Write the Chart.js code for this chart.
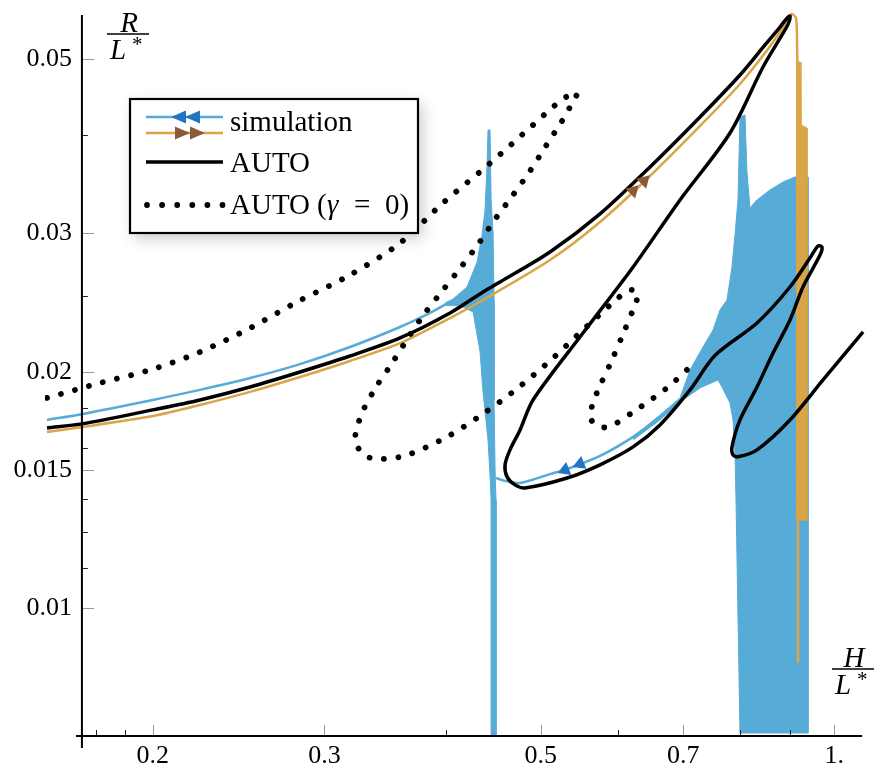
<!DOCTYPE html>
<html>
<head>
<meta charset="utf-8">
<script src="https://cdn.jsdelivr.net/npm/chart.js@4.4.0/dist/chart.umd.min.js"></script>
<style>
  html, body { margin: 0; padding: 0; background: #fff; }
  #wrap { width: 886px; height: 774px; }
</style>
</head>
<body>
<div id="wrap"><canvas id="chart" width="886" height="774"></canvas></div>
<script>
// values are H/L* (x) and R/L* (y)

// AUTO branch (solid black)
const autoH = [0.1558, 0.1692, 0.2000, 0.2236, 0.2517, 0.2832, 0.3187, 0.3587, 0.4036, 0.4363,
  0.4542, 0.5111, 0.5752, 0.6473, 0.7284, 0.8005, 0.8492, 0.8798, 0.8945, 0.9008,
  0.8987, 0.8903, 0.8452, 0.7818, 0.6948, 0.6219, 0.5525, 0.4910, 0.4762,
  0.4650, 0.4596, 0.4618, 0.4706, 0.4818, 0.5321, 0.5752, 0.6219, 0.6627, 0.7114,
  0.7553, 0.8333, 0.9008, 0.9444, 0.9624, 0.9716, 0.9670, 0.9289, 0.9008, 0.8654,
  0.8333, 0.8005, 0.7855, 0.7874, 0.7967, 0.8333, 0.9008, 0.9739, 1.0706];
const autoR = [0.01696, 0.01716, 0.01788, 0.01841, 0.01912, 0.01998, 0.02094, 0.02208, 0.02376, 0.02527,
  0.02602, 0.02841, 0.03177, 0.03646, 0.04222, 0.04775, 0.05215, 0.05496, 0.05643, 0.05677,
  0.05578, 0.05449, 0.04889, 0.04028, 0.03310, 0.02719, 0.02240, 0.01841, 0.01686,
  0.01590, 0.01522, 0.01469, 0.01435, 0.01422, 0.01464, 0.01522, 0.01604, 0.01711, 0.01896,
  0.02100, 0.02307, 0.02564, 0.02791, 0.02892, 0.02883, 0.02816, 0.02564, 0.02327, 0.02112,
  0.01912, 0.01736, 0.01604, 0.01567, 0.01558, 0.01590, 0.01736, 0.01952, 0.02247];

// AUTO with gamma = 0 (dotted)
const auto0H = [0.1558, 0.1766, 0.1987, 0.2236, 0.2517, 0.2812, 0.3187, 0.3587, 0.3970, 0.4415,
  0.4910, 0.5160, 0.5308, 0.5448, 0.5358, 0.5258, 0.5063, 0.4875, 0.4684, 0.4499,
  0.4322, 0.4143, 0.3970, 0.3805, 0.3655, 0.3520, 0.3389, 0.3279, 0.3225, 0.3287,
  0.3381, 0.3621, 0.3989, 0.4363, 0.4739, 0.5136, 0.5539, 0.5988, 0.6160, 0.6292,
  0.6233, 0.6073, 0.5903, 0.5738, 0.5658, 0.5618, 0.5711, 0.5876, 0.6219, 0.6738, 0.7097];
const auto0R = [0.01852, 0.01935, 0.02010, 0.02119, 0.02273, 0.02454, 0.02656, 0.02917, 0.03281, 0.03667,
  0.04124, 0.04359, 0.04477, 0.04530, 0.04347, 0.04173, 0.03879, 0.03603, 0.03359, 0.03140,
  0.02917, 0.02719, 0.02542, 0.02376, 0.02208, 0.02051, 0.01912, 0.01772, 0.01637, 0.01571,
  0.01549, 0.01562, 0.01647, 0.01767, 0.01907, 0.02076, 0.02267, 0.02475, 0.02542, 0.02519,
  0.02418, 0.02234, 0.02057, 0.01907, 0.01825, 0.01751, 0.01706, 0.01701, 0.01777, 0.01907, 0.02022];

// simulation, increasing H (tan)
const simUpH = [0.1558, 0.1696, 0.2000, 0.2236, 0.2517, 0.2832, 0.3187, 0.3587, 0.4036, 0.4363,
  0.5111, 0.5752, 0.6473, 0.7284, 0.8005, 0.8492, 0.8798, 0.8966, 0.9051, 0.9137,
  0.9159, 0.9180, 0.9180, 0.9180];
const simUpR = [0.01676, 0.01701, 0.01756, 0.01814, 0.01885, 0.01969, 0.02064, 0.02175, 0.02341, 0.02468,
  0.02775, 0.03103, 0.03551, 0.04112, 0.04651, 0.05093, 0.05417, 0.05627, 0.05710, 0.05643,
  0.05291, 0.04124, 0.01294, 0.00851];
// envelope of the fast oscillation near H = 0.92
const simUpBandH = [0.9137, 0.9224, 0.9245, 0.9377, 0.9377, 0.9137];
const simUpBandR = [0.04961, 0.04961, 0.04124, 0.04088, 0.01294, 0.01294];

// simulation, decreasing H (blue)
const simDownH = [0.1558, 0.1696, 0.2000, 0.2236, 0.2517, 0.2832, 0.3187, 0.3587, 0.3850, 0.4036];
const simDownR = [0.01736, 0.01767, 0.01841, 0.01896, 0.01963, 0.02045, 0.02150, 0.02280, 0.02376, 0.02454];
const simLowH = [0.4499, 0.4596, 0.4762, 0.5111, 0.5321, 0.5752, 0.6219, 0.6627];
const simLowR = [0.01464, 0.01452, 0.01443, 0.01481, 0.01503, 0.01562, 0.01652, 0.01751];
// envelopes of the oscillating parts
const spikeH = [0.3989, 0.4065, 0.4202, 0.4302, 0.4353, 0.4384, 0.4405, 0.4415, 0.4436, 0.4447,
  0.4468, 0.4478, 0.4478, 0.4489, 0.4499, 0.4499, 0.4447, 0.4447, 0.4436, 0.4415,
  0.4363, 0.4333, 0.4262, 0.4133, 0.3989];
const spikeR = [0.02446, 0.02475, 0.02564, 0.02759, 0.02987, 0.03214, 0.03667, 0.04064, 0.04064, 0.03310,
  0.03004, 0.02468, 0.01841, 0.01499, 0.01373, 0.00689, 0.00689, 0.01373, 0.01477, 0.01637,
  0.01885, 0.02119, 0.02383, 0.02428, 0.02428];
const blockH = [0.6219, 0.6627, 0.6948, 0.7114, 0.7335, 0.7511, 0.7636, 0.7763, 0.7855, 0.7911,
  0.7967, 0.8005, 0.8100, 0.8138, 0.8196, 0.8333, 0.8593, 0.8861, 0.9115, 0.9400,
  0.9400, 0.8005, 0.7930, 0.7911, 0.7874, 0.7818, 0.7672, 0.7600, 0.7284, 0.6948,
  0.6627, 0.6219];
const blockR = [0.01652, 0.01761, 0.01852, 0.02010, 0.02150, 0.02260, 0.02397, 0.02468, 0.02719, 0.02987,
  0.03310, 0.04222, 0.04247, 0.03593, 0.03233, 0.03310, 0.03408, 0.03489, 0.03541, 0.03541,
  0.00693, 0.00693, 0.01373, 0.01576, 0.01736, 0.01825, 0.01912, 0.01952, 0.01907, 0.01830,
  0.01736, 0.01637];

// direction arrows on the simulation curves
const arrowUpH = [0.6219, 0.6382];
const arrowUpR = [0.03399, 0.03500];
const arrowDownH = [0.5296, 0.5487];
const arrowDownR = [0.01499, 0.01526];

// axes
const xMajor = [0.2, 0.3, 0.5, 0.7, 1];
const xMajorLabels = ['0.2', '0.3', '0.5', '0.7', '1.'];
const xMinor = [0.175, 0.1875, 0.4, 0.6, 0.8, 0.9];
const yMajor = [0.01, 0.015, 0.02, 0.03, 0.05];
const yMajorLabels = ['0.01', '0.015', '0.02', '0.03', '0.05'];
const yMinor = [0.01125, 0.0125, 0.01375, 0.016, 0.018, 0.025, 0.04];
const axisOriginH = 0.1692;
const axisOriginR = 0.0068695;
const yAxisTop = 0.05693;
const xAxisEnd = 1.068;

const blue = '#56abd7';
const tan = '#d9a546';
const serif = "'Liberation Serif', 'DejaVu Serif', serif";

function pts(hs, rs) {
    return hs.map((h, i) => ({x: h, y: rs[i]}));
}

const axesPlugin = {
    id: 'mmaAxes',
    afterDatasetsDraw(chart) {
        const ctx = chart.ctx;
        const xs = chart.scales.x;
        const ys = chart.scales.y;
        const ox = xs.getPixelForValue(axisOriginH);
        const oy = ys.getPixelForValue(axisOriginR);
        ctx.save();
        // tick marks drawn inward
        ctx.lineWidth = 1;
        ctx.strokeStyle = '#999';
        xMajor.forEach(v => {
            const px = Math.round(xs.getPixelForValue(v)) + 0.5;
            ctx.beginPath(); ctx.moveTo(px, oy); ctx.lineTo(px, oy - 11); ctx.stroke();
        });
        yMajor.forEach(v => {
            const py = Math.round(ys.getPixelForValue(v)) + 0.5;
            ctx.beginPath(); ctx.moveTo(ox, py); ctx.lineTo(ox + 12, py); ctx.stroke();
        });
        ctx.strokeStyle = '#222';
        xMinor.forEach(v => {
            const px = Math.round(xs.getPixelForValue(v)) + 0.5;
            ctx.beginPath(); ctx.moveTo(px, oy); ctx.lineTo(px, oy - 6); ctx.stroke();
        });
        yMinor.forEach(v => {
            const py = Math.round(ys.getPixelForValue(v)) + 0.5;
            ctx.beginPath(); ctx.moveTo(ox, py); ctx.lineTo(ox + 6, py); ctx.stroke();
        });
        // axis lines
        ctx.strokeStyle = '#000';
        ctx.lineWidth = 2;
        ctx.beginPath();
        ctx.moveTo(ox, ys.getPixelForValue(yAxisTop));
        ctx.lineTo(ox, oy + 12);
        ctx.moveTo(ox - 6, oy);
        ctx.lineTo(xs.getPixelForValue(xAxisEnd), oy);
        ctx.stroke();
        // tick labels
        ctx.fillStyle = '#000';
        ctx.font = '26px ' + serif;
        ctx.textAlign = 'right';
        ctx.textBaseline = 'middle';
        yMajor.forEach((v, i) => ctx.fillText(yMajorLabels[i], ox - 10, ys.getPixelForValue(v)));
        ctx.textAlign = 'center';
        xMajor.forEach((v, i) => ctx.fillText(xMajorLabels[i], xs.getPixelForValue(v), oy + 20));
        ctx.restore();
    },
    afterDraw(chart) {
        const ctx = chart.ctx;
        ctx.save();
        // axis titles as fractions
        drawFraction(ctx, 128, 32, 'R');
        drawFraction(ctx, 853, 667, 'H');

        // legend box
        const bx = 130, by = 99, bw = 288, bh = 134;
        ctx.save();
        ctx.shadowColor = 'rgba(0,0,0,0.22)';
        ctx.shadowBlur = 14;
        ctx.shadowOffsetX = 4;
        ctx.shadowOffsetY = 5;
        ctx.fillStyle = '#fff';
        ctx.fillRect(bx, by, bw, bh);
        ctx.restore();
        ctx.lineWidth = 2.2;
        ctx.strokeStyle = '#000';
        ctx.strokeRect(bx, by, bw, bh);

        // simulation sample
        ctx.lineWidth = 2.5;
        ctx.strokeStyle = blue;
        ctx.beginPath(); ctx.moveTo(146, 117); ctx.lineTo(223, 117); ctx.stroke();
        ctx.strokeStyle = tan;
        ctx.beginPath(); ctx.moveTo(146, 133); ctx.lineTo(223, 133); ctx.stroke();
        arrowHead(ctx, 179, 117, -1, '#2175c2');
        arrowHead(ctx, 193, 117, -1, '#2175c2');
        arrowHead(ctx, 182, 133, 1, '#8c5a36');
        arrowHead(ctx, 197, 133, 1, '#8c5a36');
        // AUTO sample
        ctx.lineWidth = 3.5;
        ctx.strokeStyle = '#000';
        ctx.beginPath(); ctx.moveTo(146, 162); ctx.lineTo(223, 162); ctx.stroke();
        // dotted sample
        ctx.fillStyle = '#000';
        for (let i = 0; i < 6; i++) {
            ctx.beginPath(); ctx.arc(147 + i * 15.1, 205, 2.9, 0, Math.PI * 2); ctx.fill();
        }
        // labels
        ctx.font = '29px ' + serif;
        ctx.textAlign = 'left';
        ctx.textBaseline = 'alphabetic';
        ctx.fillText('simulation', 230, 131);
        ctx.fillText('AUTO', 230, 172);
        ctx.fillText('AUTO', 230, 214);
        ctx.fillText('(', 317, 214);
        ctx.fillText('=', 354, 214);
        ctx.fillText('0)', 385, 214);
        ctx.font = 'italic 29px ' + serif;
        ctx.fillText('\u03b3', 327, 214);
        ctx.restore();
    }
};

function arrowHead(ctx, cx, cy, dir, color) {
    ctx.beginPath();
    ctx.moveTo(cx + dir * 8, cy);
    ctx.lineTo(cx - dir * 7, cy - 6.5);
    ctx.lineTo(cx - dir * 7, cy + 6.5);
    ctx.closePath();
    ctx.fillStyle = color;
    ctx.fill();
}

function drawFraction(ctx, cx, base, letter) {
    ctx.fillStyle = '#000';
    ctx.textAlign = 'center';
    ctx.textBaseline = 'alphabetic';
    ctx.font = 'italic 29px ' + serif;
    ctx.fillText(letter, cx + 1, base);
    ctx.lineWidth = 1.5;
    ctx.strokeStyle = '#000';
    ctx.beginPath(); ctx.moveTo(cx - 21, base + 2); ctx.lineTo(cx + 21, base + 2); ctx.stroke();
    ctx.textAlign = 'left';
    ctx.fillText('L', cx - 18, base + 27);
    ctx.font = '21px ' + serif;
    ctx.fillText('*', cx + 4, base + 19);
}

const ctx = document.querySelector('#chart').getContext('2d');
const chart = new Chart(ctx, {
    type: 'line',
    data: {
        datasets: [
            {
                label: 'arrows up',
                data: pts(arrowUpH, arrowUpR),
                showLine: false,
                pointStyle: 'triangle',
                pointRadius: 8,
                pointRotation: 45,
                pointBackgroundColor: '#8c5a36',
                pointBorderWidth: 0,
                order: 0
            },
            {
                label: 'arrows down',
                data: pts(arrowDownH, arrowDownR),
                showLine: false,
                pointStyle: 'triangle',
                pointRadius: 8,
                pointRotation: 248,
                pointBackgroundColor: '#2175c2',
                pointBorderWidth: 0,
                order: 0
            },
            {
                label: 'AUTO (\u03b3 = 0)',
                data: pts(auto0H, auto0R),
                borderColor: '#000',
                borderWidth: 5.8,
                borderDash: [0.01, 14.5],
                borderCapStyle: 'round',
                pointRadius: 0,
                tension: 0.3,
                order: 1
            },
            {
                label: 'AUTO',
                data: pts(autoH, autoR),
                borderColor: '#000',
                borderWidth: 3.5,
                pointRadius: 0,
                tension: 0.3,
                order: 2
            },
            {
                label: 'simulation (up)',
                data: pts(simUpH, simUpR),
                borderColor: tan,
                borderWidth: 2.5,
                pointRadius: 0,
                tension: 0.25,
                order: 3
            },
            {
                label: 'simulation band (up)',
                data: pts(simUpBandH, simUpBandR),
                borderColor: tan,
                backgroundColor: tan,
                borderWidth: 1,
                fill: 'shape',
                pointRadius: 0,
                order: 4
            },
            {
                label: 'simulation (down)',
                data: pts(simDownH, simDownR),
                borderColor: blue,
                borderWidth: 2.5,
                pointRadius: 0,
                tension: 0.3,
                order: 5
            },
            {
                label: 'simulation (down, low)',
                data: pts(simLowH, simLowR),
                borderColor: blue,
                borderWidth: 2.5,
                pointRadius: 0,
                tension: 0.3,
                order: 5
            },
            {
                label: 'oscillation 1',
                data: pts(spikeH, spikeR),
                borderColor: blue,
                backgroundColor: blue,
                borderWidth: 1,
                fill: 'shape',
                pointRadius: 0,
                order: 6
            },
            {
                label: 'oscillation 2',
                data: pts(blockH, blockR),
                borderColor: blue,
                backgroundColor: blue,
                borderWidth: 1,
                fill: 'shape',
                pointRadius: 0,
                order: 6
            }
        ]
    },
    options: {
        responsive: false,
        animation: false,
        layout: { padding: { left: 45, right: 16, top: 12, bottom: 38 } },
        plugins: { legend: { display: false }, tooltip: { enabled: false } },
        scales: {
            x: { type: 'logarithmic', min: 0.15507, max: 1.0882, display: false },
            y: { type: 'logarithmic', min: 0.0068695, max: 0.057444, display: false }
        }
    },
    plugins: [axesPlugin]
});
</script>
</body>
</html>
